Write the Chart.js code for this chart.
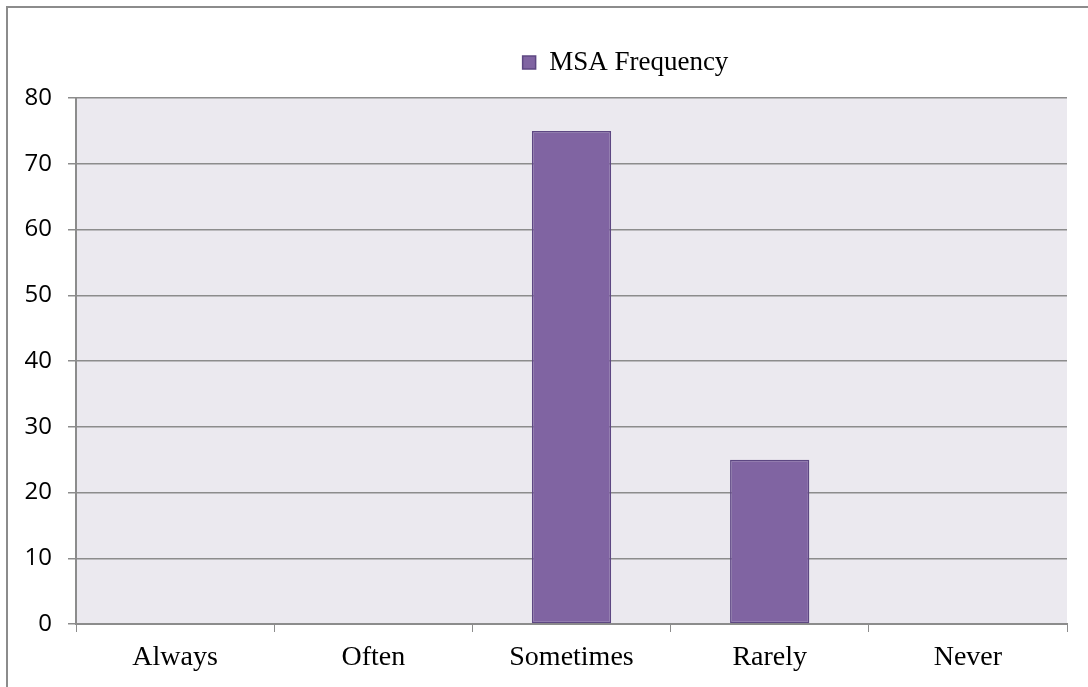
<!DOCTYPE html>
<html>
<head>
<meta charset="utf-8">
<script src="https://cdn.jsdelivr.net/npm/chart.js@4.4.0/dist/chart.umd.min.js"></script>
<style>
  html, body { margin: 0; padding: 0; background: #fff; }
  #wrap { width: 1088px; height: 687px; }
</style>
</head>
<body>
<div id="wrap"><canvas id="chart" width="1088" height="687"></canvas></div>
<script>
// chart values
const categories = ['Always', 'Often', 'Sometimes', 'Rarely', 'Never'];
const msaFrequency = [0, 0, 75, 25, 0];
const yTicks = [0, 10, 20, 30, 40, 50, 60, 70, 80];

const serif = '"Liberation Serif", "Times New Roman", serif';

// plot background + outer frame
const framePlugin = {
    id: 'frame',
    afterLayout(chart) {
        // legend sits a bit right of centre in the original
        if (chart.legend) {
            chart.legend.left += 88;
            chart.legend.right += 88;
        }
    },
    beforeDraw(chart) {
        const ctx = chart.ctx;
        const a = chart.chartArea;
        ctx.save();
        ctx.fillStyle = '#ebe9ef';
        ctx.fillRect(a.left, a.top, a.right - a.left, a.bottom - a.top);
        ctx.strokeStyle = '#8c8c8c';
        ctx.lineWidth = 2;
        ctx.strokeRect(7, 7, 1200, 800);
        ctx.restore();
    }
};

new Chart(document.getElementById('chart').getContext('2d'), {
    type: 'bar',
    data: {
        labels: categories,
        datasets: [{
            label: 'MSA Frequency',
            data: msaFrequency,
            backgroundColor: '#8064a2',
            borderColor: '#5d4782',
            borderWidth: 1.5,
            borderSkipped: false,
            categoryPercentage: 1,
            barPercentage: 0.4
        }]
    },
    options: {
        responsive: false,
        animation: false,
        layout: { padding: { left: 8, right: 21, top: 39, bottom: 0 } },
        plugins: {
            tooltip: { enabled: false },
            legend: {
                position: 'top',
                labels: {
                    color: '#000',
                    font: { family: serif, size: 27 },
                    boxWidth: 13,
                    boxHeight: 13,
                    padding: 10
                }
            },
            // empty spacer between legend and plot
            subtitle: {
                display: true,
                text: ' ',
                weight: 500,
                padding: 0,
                font: { size: 10, lineHeight: 1.2 }
            }
        },
        scales: {
            x: {
                afterFit: s => { s.height = 63; },
                grid: {
                    offset: true,
                    drawOnChartArea: false,
                    color: '#8c8c8c',
                    tickLength: 8
                },
                border: { color: '#8c8c8c', width: 2 },
                ticks: {
                    color: '#000',
                    padding: 9,
                    font: { family: serif, size: 28 }
                }
            },
            y: {
                min: 0,
                max: 80,
                afterFit: s => { s.width = 68; },
                afterBuildTicks: s => { s.ticks = yTicks.map(v => ({ value: v })); },
                grid: {
                    color: '#8c8c8c',
                    lineWidth: 1.5,
                    tickLength: 8
                },
                border: { color: '#8c8c8c', width: 2 },
                ticks: {
                    color: '#000',
                    padding: 16,
                    font: { family: '"Open Sans", "Liberation Sans", sans-serif', size: 24 }
                }
            }
        }
    },
    plugins: [framePlugin]
});
</script>
</body>
</html>
